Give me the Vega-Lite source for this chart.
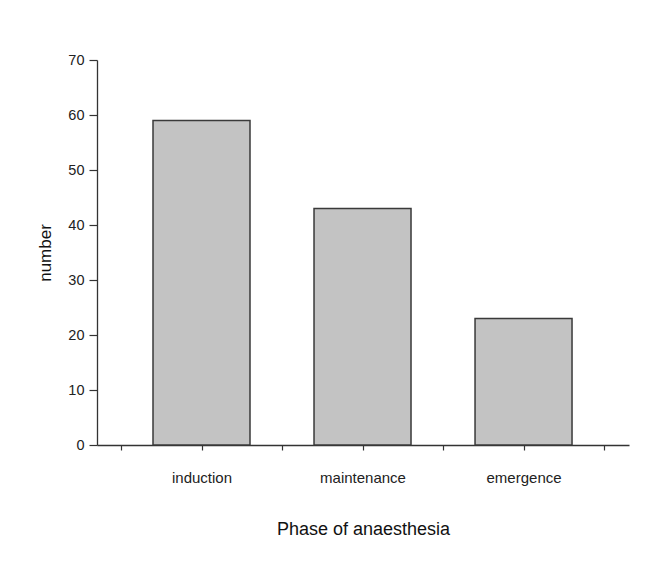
{
  "$schema": "https://vega.github.io/schema/vega-lite/v6.json",
  "autosize": "none",
  "width": 532,
  "height": 385,
  "padding": {"left": 97, "top": 60, "right": 36, "bottom": 120},
  "background": "white",
  "config": {
    "view": {"stroke": null},
    "font": "Liberation Sans",
    "axis": {
      "labelFont": "Liberation Sans",
      "titleFont": "Liberation Sans",
      "labelColor": "#222222",
      "titleColor": "#111111",
      "domainColor": "#333333",
      "tickColor": "#333333",
      "domainWidth": 1.3,
      "tickWidth": 1.2,
      "grid": false,
      "titleFontWeight": "normal"
    }
  },
  "data": {
    "values": [
      {"phase": "induction", "number": 59},
      {"phase": "maintenance", "number": 43},
      {"phase": "emergence", "number": 23}
    ]
  },
  "transform": [{"window": [{"op": "row_number", "as": "idx"}]}],
  "mark": {"type": "bar", "size": 97, "fill": "#c3c3c3", "stroke": "#3a3a3a", "strokeWidth": 1.5},
  "encoding": {
    "x": {
      "field": "idx",
      "type": "quantitative",
      "scale": {"domain": [0.351, 3.655], "nice": false, "zero": false, "padding": 0},
      "axis": {
        "title": "Phase of anaesthesia",
        "titleFontSize": 18,
        "titlePadding": 35,
        "values": [0.5, 1, 1.5, 2, 2.5, 3, 3.5],
        "labelExpr": "datum.value == 1 ? 'induction' : datum.value == 2 ? 'maintenance' : datum.value == 3 ? 'emergence' : ''",
        "labelFontSize": 15,
        "labelPadding": 20,
        "tickSize": 5,
        "labelFlush": false,
        "labelOverlap": false
      }
    },
    "y": {
      "field": "number",
      "type": "quantitative",
      "scale": {"domain": [0, 70], "nice": false},
      "axis": {
        "title": "number",
        "titleFontSize": 17,
        "titlePadding": 13,
        "values": [0, 10, 20, 30, 40, 50, 60, 70],
        "labelFontSize": 14.5,
        "labelPadding": 5,
        "tickSize": 8
      }
    }
  }
}
